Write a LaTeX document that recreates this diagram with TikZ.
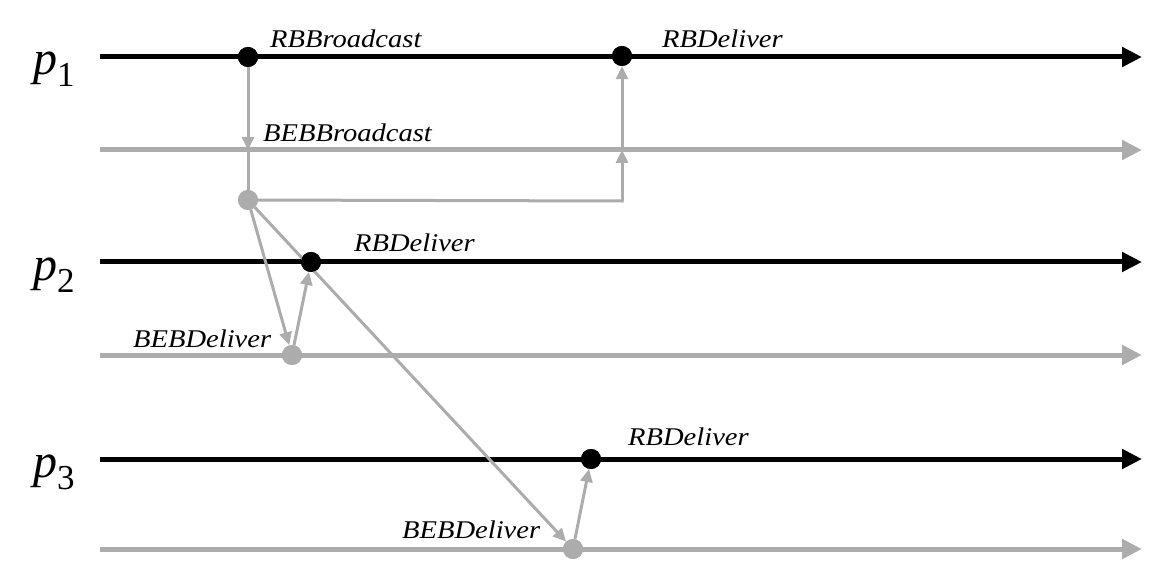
\documentclass[tikz,border=0pt]{standalone}
\usepackage{fontspec}
\setmainfont{Liberation Serif}
\newfontfamily\lblfont[FakeStretch=1.12]{Liberation Serif}
\usetikzlibrary{arrows.meta}
\definecolor{lg}{RGB}{172,172,172}
\begin{document}
\begin{tikzpicture}[x=1pt,y=-1pt,
  proc/.style={line width=5pt, black, -{Triangle[length=20pt,width=19pt]}},
  layer/.style={line width=5pt, lg, -{Triangle[length=20pt,width=19pt]}},
  msg/.style={lg, line width=3pt, -{Triangle[length=13pt,width=12pt]}},
  plainmsg/.style={lg, line width=3pt},
  bdot/.style={circle, fill=black, inner sep=0pt, minimum size=20pt},
  gdot/.style={circle, fill=lg, inner sep=0pt, minimum size=20pt},
  lbl/.style={font=\lblfont\fontsize{25.5}{30}\selectfont\itshape, anchor=base west, inner sep=0pt},
  pname/.style={font=\fontsize{48}{52}\selectfont\itshape, anchor=base west, inner sep=0pt}]
\useasboundingbox (0,0) rectangle (1168,588);

% timeline end points
\coordinate (a1) at (100,57);  \coordinate (b1) at (1142,57);
\coordinate (a1g) at (100,150); \coordinate (b1g) at (1142,150);
\coordinate (a2) at (100,262); \coordinate (b2) at (1142,262);
\coordinate (a2g) at (100,355); \coordinate (b2g) at (1142,355);
\coordinate (a3) at (100,459); \coordinate (b3) at (1142,459);
\coordinate (a3g) at (100,549); \coordinate (b3g) at (1142,549);

\draw[proc] (a1) -- (b1);
\draw[layer] (a1g) -- (b1g);
\draw[proc] (a2) -- (b2);
\draw[layer] (a2g) -- (b2g);
\draw[proc] (a3) -- (b3);
\draw[layer] (a3g) -- (b3g);

% event dots (positions)
\node[bdot] (rbb) at (248,57) {};
\node[bdot] (rbd1) at (622,56) {};
\node[gdot] (bebb) at (248,200) {};
\node[bdot] (rbd2) at (311,262) {};
\node[gdot] (bebd2) at (292,355) {};
\node[bdot] (rbd3) at (591,459) {};
\node[gdot] (bebd3) at (573,549) {};

\coordinate (x1) at (248,150);
\coordinate (corner) at (622,201);
\coordinate (x2) at (622,150);

% messages
\draw[msg] (rbb) -- (x1);
\draw[plainmsg] (x1) -- (bebb.center);
\draw[plainmsg, line join=miter] (bebb.center) -- (corner) -- ++(0,-1.5);
\draw[msg] (corner) -- (x2);
\draw[msg] (x2) -- (rbd1);
\draw[msg] (bebb) -- (bebd2);
\draw[msg] (bebb) -- (bebd3);
\draw[msg] (bebd2) -- (rbd2);
\draw[msg] (bebd3) -- (rbd3);

% redraw dots on top
\node[bdot] at (rbb) {};
\node[bdot] at (rbd1) {};
\node[gdot] at (bebb) {};
\node[bdot] at (rbd2) {};
\node[gdot] at (bebd2) {};
\node[bdot] at (rbd3) {};
\node[gdot] at (bebd3) {};

% labels
\node[lbl] (t1) at (270,48) {RBBroadcast};
\node[lbl] (t2) at (662,48) {RBDeliver};
\node[lbl] (t3) at (263,142) {BEBBroadcast};
\node[lbl] (t4) at (354,252) {RBDeliver};
\node[lbl] (t5) at (133,347) {BEBDeliver};
\node[lbl] (t6) at (628,445) {RBDeliver};
\node[lbl] (t7) at (402,538) {BEBDeliver};

\node[pname] (p1) at (33,75) {p\raisebox{-12pt}{\upshape\fontsize{35}{40}\selectfont 1}};
\node[pname] (p2) at (33,280) {p\raisebox{-12pt}{\upshape\fontsize{35}{40}\selectfont 2}};
\node[pname] (p3) at (33,477) {p\raisebox{-12pt}{\upshape\fontsize{35}{40}\selectfont 3}};
\end{tikzpicture}
\end{document}
